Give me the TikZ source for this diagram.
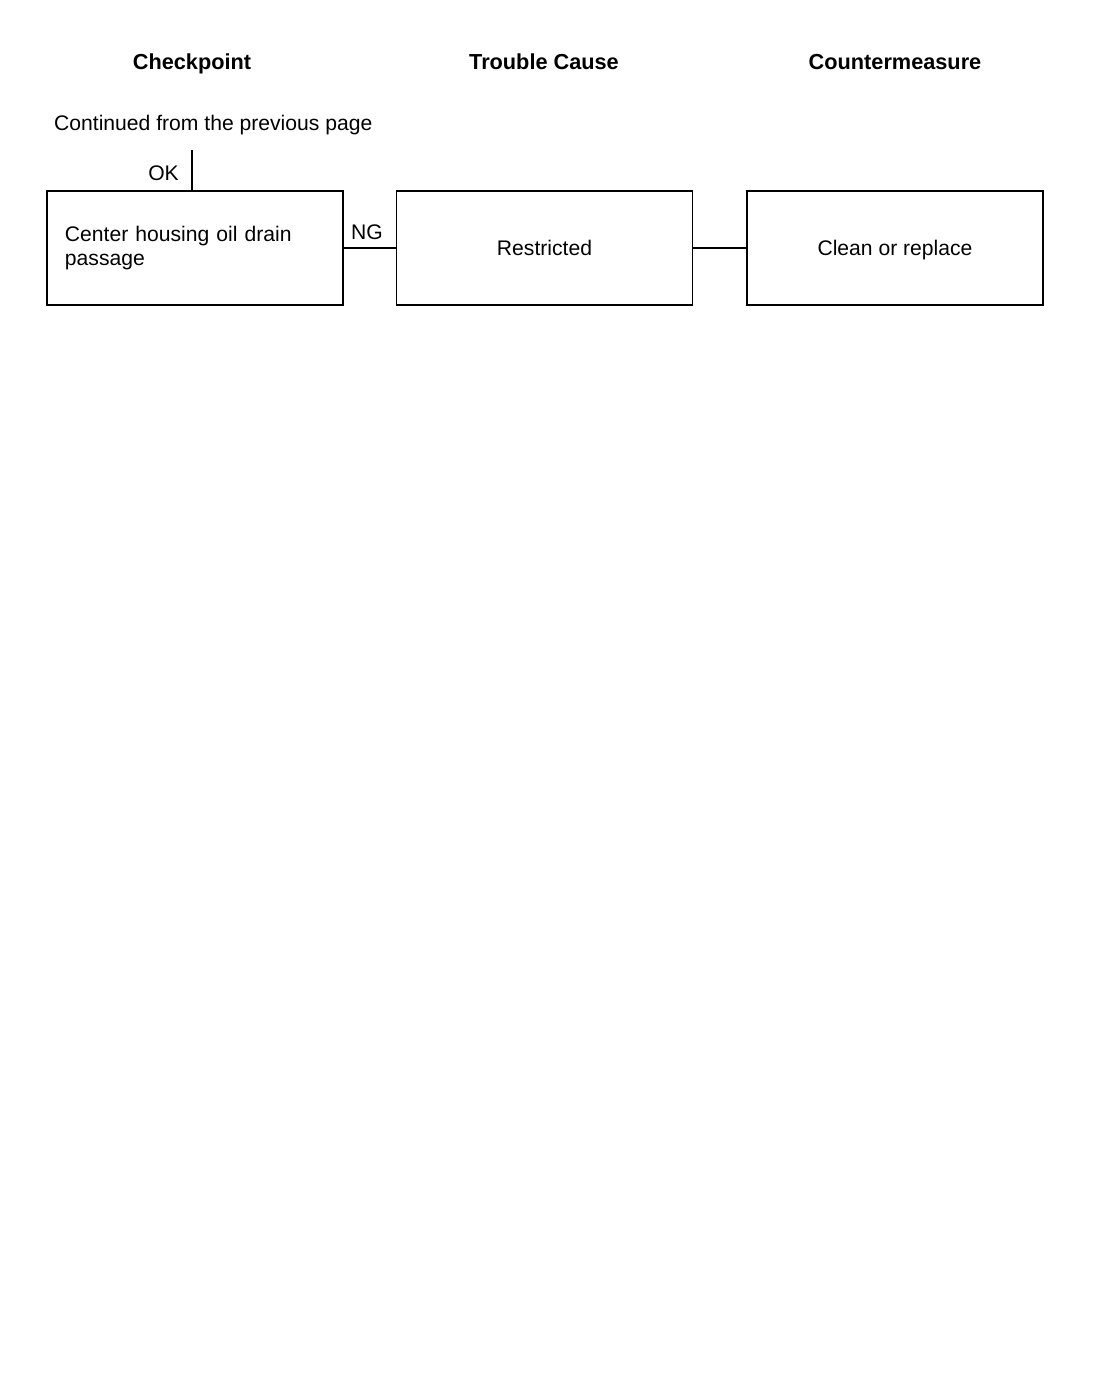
\documentclass[tikz,border=0pt]{standalone}
\usepackage{fontspec}
\setmainfont{Liberation Sans}
\begin{document}
\begin{tikzpicture}[x=1bp,y=-1bp,
  every node/.style={font=\fontsize{21.2}{24}\selectfont},
  head/.style={font=\fontsize{21.8}{24}\selectfont\bfseries, inner sep=0pt, anchor=base},
  box/.style={draw, line width=1.1bp, minimum width=296bp, minimum height=114bp, inner sep=0pt},
  capc/.style={text height=15bp, text depth=0bp},
  lbl/.style={inner sep=0pt},
  conn/.style={line width=1.1bp}]
\useasboundingbox (0,0) rectangle (1100,1376);
\fill[white] (0,0) rectangle (1100,1376);
\node[head] (h1) at (192,70) {Checkpoint};
\node[head] (h2) at (544,70) {Trouble Cause};
\node[head] (h3) at (895,70) {Countermeasure};
\node[lbl, anchor=base west] (cont) at (54,131) {Continued from the previous page};
\coordinate (top) at (192,150);
\node[box, text width=260bp, align=left] (b1) at (195,248) {Center housing oil drain\\passage};
\node[box, capc] (b2) at (544.5,248) {Restricted};
\node[box, capc] (b3) at (895,248) {Clean or replace};
\draw[conn] (top) -- (top |- b1.north);
\node[lbl, anchor=base east] (ok) at (179,181) {OK};
\node[lbl, anchor=base] (ng) at (367,240) {NG};
\draw[conn] (b1.east) -- (b2.west);
\draw[conn] (b2.east) -- (b3.west);
\end{tikzpicture}
\end{document}
